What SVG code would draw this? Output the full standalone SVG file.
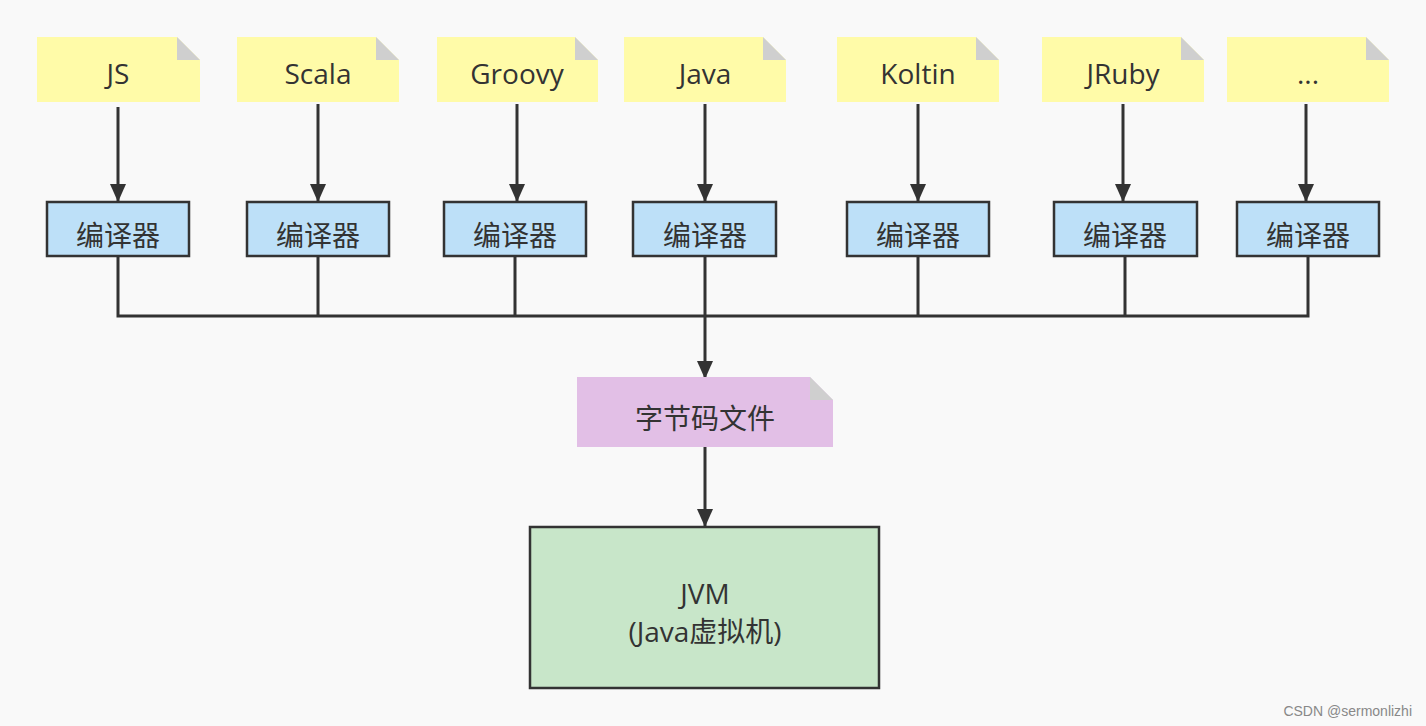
<svg xmlns="http://www.w3.org/2000/svg" width="1426" height="726" viewBox="0 0 1426 726">
<style>
.note{fill:#fffba8}
.fold{fill:#cfcfcf}
.box{fill:#bde0f8;stroke:#333;stroke-width:2.5}
.t{font-family:"Open Sans","Noto Sans","Noto Sans CJK SC",sans-serif;font-size:28px;fill:#333;text-anchor:middle}
.c{font-family:"Noto Sans CJK SC",sans-serif;font-size:28px;fill:#333;text-anchor:middle}
.ln{stroke:#333;stroke-width:3;fill:none}
</style>
<defs>
<marker id="a" markerWidth="20" markerHeight="20" refX="18" refY="10" orient="auto" markerUnits="userSpaceOnUse">
<path d="M0,2 L18,10 L0,18 z" fill="#333"/>
</marker>
</defs>
<rect width="1426" height="726" fill="#f9f9f9"/>
<g id="connectors">
<path class="ln" marker-end="url(#a)" d="M118,107 V202"/>
<path class="ln" marker-end="url(#a)" d="M318,104 V202"/>
<path class="ln" marker-end="url(#a)" d="M517,104 V202"/>
<path class="ln" marker-end="url(#a)" d="M705,104 V202"/>
<path class="ln" marker-end="url(#a)" d="M918,104 V202"/>
<path class="ln" marker-end="url(#a)" d="M1123,104 V202"/>
<path class="ln" marker-end="url(#a)" d="M1306,104 V202"/>
<path class="ln" d="M118,256 V316 H1308 V256 M318,256 V316 M515,256 V316 M918,256 V316 M1125,256 V316 M705,256 V316"/>
<path class="ln" marker-end="url(#a)" d="M705,316 V379"/>
<path class="ln" marker-end="url(#a)" d="M705,447 V527"/>
</g>
<g id="n-js"><path class="note" d="M37,37 H177 L200,60 V102 H37 z"/><path class="fold" d="M177,37 L200,60 H177 z"/><text class="t" x="118" y="84">JS</text></g>
<g id="n-scala"><path class="note" d="M237,37 H376 L399,60 V102 H237 z"/><path class="fold" d="M376,37 L399,60 H376 z"/><text class="t" x="318" y="84">Scala</text></g>
<g id="n-groovy"><path class="note" d="M437,37 H575 L598,60 V102 H437 z"/><path class="fold" d="M575,37 L598,60 H575 z"/><text class="t" x="517" y="84">Groovy</text></g>
<g id="n-java"><path class="note" d="M624,37 H763 L786,60 V102 H624 z"/><path class="fold" d="M763,37 L786,60 H763 z"/><text class="t" x="705" y="84">Java</text></g>
<g id="n-koltin"><path class="note" d="M837,37 H976 L999,60 V102 H837 z"/><path class="fold" d="M976,37 L999,60 H976 z"/><text class="t" x="918" y="84">Koltin</text></g>
<g id="n-jruby"><path class="note" d="M1042,37 H1181 L1204,60 V102 H1042 z"/><path class="fold" d="M1181,37 L1204,60 H1181 z"/><text class="t" x="1123" y="84">JRuby</text></g>
<g id="n-more"><path class="note" d="M1227,37 H1366 L1389,60 V102 H1227 z"/><path class="fold" d="M1366,37 L1389,60 H1366 z"/><text class="t" x="1308" y="84">...</text></g>
<g id="c1"><rect class="box" x="47" y="202" width="142" height="54"/><text class="c" x="118" y="246">编译器</text></g>
<g id="c2"><rect class="box" x="247" y="202" width="142" height="54"/><text class="c" x="318" y="246">编译器</text></g>
<g id="c3"><rect class="box" x="444" y="202" width="142" height="54"/><text class="c" x="515" y="246">编译器</text></g>
<g id="c4"><rect class="box" x="633" y="202" width="143" height="54"/><text class="c" x="705" y="246">编译器</text></g>
<g id="c5"><rect class="box" x="847" y="202" width="142" height="54"/><text class="c" x="918" y="246">编译器</text></g>
<g id="c6"><rect class="box" x="1054" y="202" width="143" height="54"/><text class="c" x="1125" y="246">编译器</text></g>
<g id="c7"><rect class="box" x="1237" y="202" width="142" height="54"/><text class="c" x="1308" y="246">编译器</text></g>
<g id="bytecode"><path d="M577,377 H810 L833,400 V447 H577 z" fill="#e2bfe6"/><path class="fold" d="M810,377 L833,400 H810 z"/><text class="c" x="705" y="429">字节码文件</text></g>
<g id="jvm"><rect x="530" y="527" width="349" height="161" fill="#c8e6c9" stroke="#333" stroke-width="2.5"/><text class="t" x="705" y="604">JVM</text><text class="t" x="705" y="642">(Java虚拟机)</text></g>
<text x="1412" y="716" font-family="Liberation Sans,sans-serif" font-size="14" fill="#888" text-anchor="end">CSDN @sermonlizhi</text>
</svg>
